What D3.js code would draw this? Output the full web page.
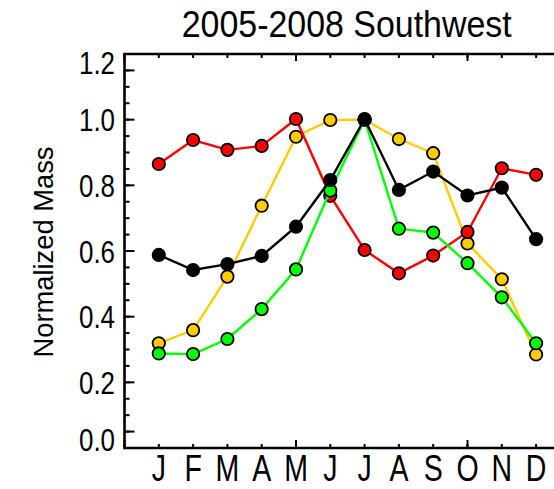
<!DOCTYPE html>
<html><head><meta charset="utf-8">
<script src="https://cdn.jsdelivr.net/npm/d3@7"></script>
<style>body{margin:0;background:#fff}svg{display:block}text{font-family:"Liberation Sans",Arial,sans-serif;fill:#000}</style>
</head><body><div id="chart"></div>
<script>
const title = "2005-2008 Southwest";
const yLabel = "Normalized Mass";
const months = ["J","F","M","A","M","J","J","A","S","O","N","D"];
const monthIndex = [1,2,3,4,5,6,7,8,9,10,11,12];
const yMajorTicks = [0.05,0.2,0.4,0.6,0.8,1.0,1.15];
const yTickLabels = ["0.0","0.2","0.4","0.6","0.8","1.0","1.2"];
const yTickLabelPos = [0.025,0.2,0.4,0.6,0.8,1.0,1.175];
const yMinorTicks = d3.range(1,24).map(i=>i*0.05);
const xMajorTicks = [0,5,10];
const xMinorTicks = d3.range(0,14);

const yellowSeries = [0.319,0.359,0.522,0.738,0.948,0.999,1.0,0.941,0.898,0.623,0.514,0.285];
const redSeries    = [0.865,0.938,0.908,0.920,1.002,0.768,0.603,0.532,0.586,0.658,0.852,0.832];
const greenSeries  = [0.288,0.286,0.332,0.423,0.544,0.784,1.0,0.668,0.656,0.563,0.459,0.319];
const blackSeries  = [0.588,0.542,0.560,0.585,0.674,0.816,1.002,0.786,0.842,0.769,0.793,0.636];
const seriesColors = ["#ffcc00","#ff0000","#00ff00","#000000"];

const W=554,H=489;
const L=124.5,T=54,B=448,R=570.4;
const svg=d3.select("#chart").append("svg").attr("width",W).attr("height",H);
const x=d3.scaleLinear().domain([0,13]).range([L,R]);
const y=d3.scaleLinear().domain([0,1.2]).range([B,T]);

// title
svg.append("text").attr("x",346.7).attr("y",37).attr("text-anchor","middle")
  .attr("font-size",37).attr("textLength",330).attr("lengthAdjust","spacingAndGlyphs").text(title);
// y label
svg.append("text").attr("transform","translate(53,252) rotate(-90)").attr("text-anchor","middle")
  .attr("font-size",27).attr("textLength",211).attr("lengthAdjust","spacingAndGlyphs").text(yLabel);

const ax=svg.append("g").attr("stroke","#000").attr("stroke-width",2);
// y ticks
ax.selectAll(".ymin").data(yMinorTicks).join("line").attr("x1",L).attr("x2",L+5).attr("y1",d=>y(d)).attr("y2",d=>y(d));
ax.selectAll(".ymaj").data(yMajorTicks).join("line").attr("x1",L).attr("x2",L+10).attr("y1",d=>y(d)).attr("y2",d=>y(d));
// x ticks top & bottom
ax.selectAll(".xtmin").data(xMinorTicks).join("line").attr("x1",d=>x(d)).attr("x2",d=>x(d)).attr("y1",T).attr("y2",T+4);
ax.selectAll(".xtmaj").data(xMajorTicks).join("line").attr("x1",d=>x(d)).attr("x2",d=>x(d)).attr("y1",T).attr("y2",T+7);
ax.selectAll(".xbmin").data(xMinorTicks).join("line").attr("x1",d=>x(d)).attr("x2",d=>x(d)).attr("y1",B).attr("y2",B-4);
ax.selectAll(".xbmaj").data(xMajorTicks).join("line").attr("x1",d=>x(d)).attr("x2",d=>x(d)).attr("y1",B).attr("y2",B-8);
// frame lines
svg.append("path").attr("d",`M${R},${T}H${L}V${B}H${R}`).attr("fill","none").attr("stroke","#000").attr("stroke-width",2.6);

// y tick labels
svg.selectAll(".ylab").data(yTickLabels).join("text")
  .attr("transform",(d,i)=>`translate(115,${y(yTickLabelPos[i])+11.5}) scale(0.81,1)`)
  .attr("text-anchor","end").attr("font-size",32).text(d=>d);
// x labels
svg.selectAll(".xlab").data(months).join("text")
  .attr("transform",(d,i)=>`translate(${x(monthIndex[i])},481) scale(0.77,1)`)
  .attr("text-anchor","middle").attr("font-size",37).text(d=>d);

// series
const line=d3.line().x((d,i)=>x(monthIndex[i])).y(d=>y(d));
[yellowSeries,redSeries,greenSeries,blackSeries].forEach((s,k)=>{
  const g=svg.append("g");
  g.append("path").attr("d",line(s)).attr("fill","none").attr("stroke",seriesColors[k]).attr("stroke-width",2.4);
  g.selectAll("circle").data(s).join("circle").attr("cx",(d,i)=>x(monthIndex[i])).attr("cy",d=>y(d))
    .attr("r",6.2).attr("fill",seriesColors[k]).attr("stroke","#000").attr("stroke-width",1.8);
});
</script></body></html>
